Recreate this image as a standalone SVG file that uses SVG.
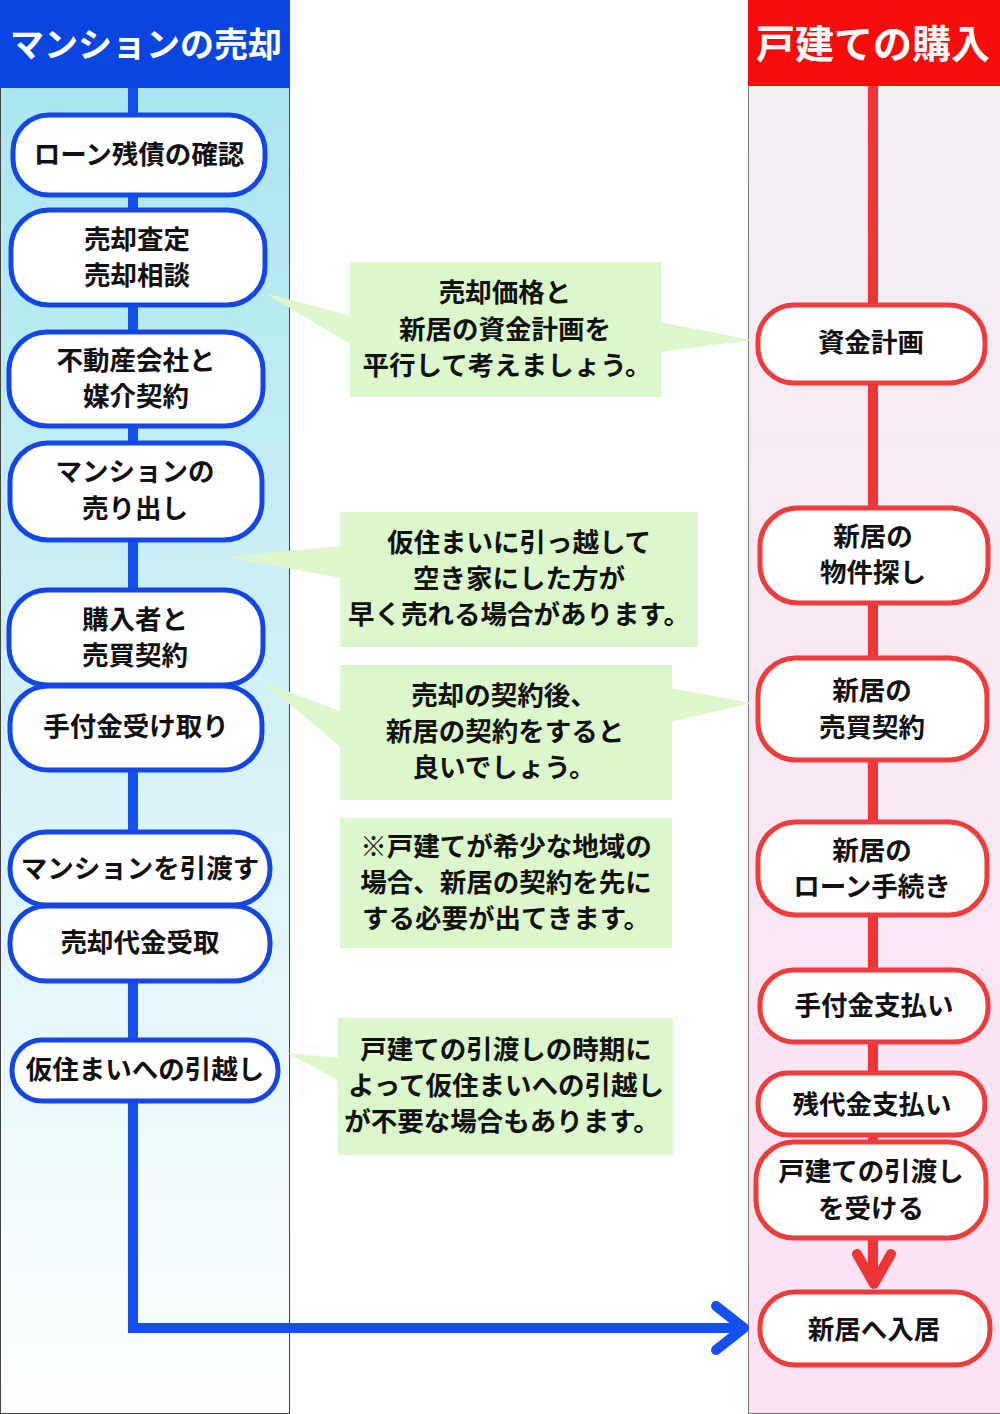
<svg xmlns="http://www.w3.org/2000/svg" width="1000" height="1414" viewBox="0 0 1000 1414">
<defs>
<linearGradient id="gL" x1="0" y1="0" x2="0" y2="1"><stop offset="0" stop-color="#a5e4f0"/><stop offset="1" stop-color="#ffffff"/></linearGradient>
<linearGradient id="gR" x1="0" y1="0" x2="0" y2="1"><stop offset="0" stop-color="#f3f0f4"/><stop offset="1" stop-color="#fde0f4"/></linearGradient>
<style>
text{font-family:"Noto Sans CJK JP","Noto Sans",sans-serif;font-weight:bold;fill:#111;text-anchor:middle}
.t{font-size:26.5px}
.c{font-size:26.5px}
.h{fill:#fff}
.bn{fill:#fff;stroke:#1446e6;stroke-width:5}
.rn{fill:#fff;stroke:#ee3b3b;stroke-width:5}
.call{fill:#dcf7cc}
.bl{stroke:#1450f0;stroke-width:10;fill:none}
.rl{stroke:#ee3535;stroke-width:10;fill:none}
</style>
</defs>
<g id="columns">
<rect x="0.5" y="0.5" width="289" height="1413" fill="url(#gL)" stroke="#444" stroke-width="1"/>
<rect x="748.5" y="0.5" width="252" height="1413" fill="url(#gR)" stroke="#777" stroke-width="1"/>
<rect x="0" y="0" width="290" height="88" fill="#0b45e0"/>
<rect x="748" y="0" width="252" height="86" fill="#f80d0d"/>
<text x="146" y="57" class="h" style="font-size:34px">マンションの売却</text>
<text x="873" y="58" class="h" style="font-size:39px">戸建ての購入</text>
</g>
<g id="connectors">
<path class="bl" d="M133 88 V1328 H742"/>
<path class="bl" d="M716 1306 L744 1328 L716 1350" stroke-linecap="round" stroke-linejoin="round"/>
<path class="rl" d="M873 86 V1280"/>
<path class="rl" d="M857 1254 L874 1284 L891 1254" stroke-linecap="round" stroke-linejoin="round"/>
</g>
<g id="callouts">
<g id="callout1">
<polygon class="call" points="265,293 352,316 352,345"/>
<polygon class="call" points="660,322 752,340 660,352"/>
<rect class="call" x="350" y="262" width="311" height="135"/>
<text class="c" x="505" y="302">売却価格と</text>
<text class="c" x="505" y="339">新居の資金計画を</text>
<text class="c" x="507" y="375">平行して考えましょう。</text>
</g>
<g id="callout2">
<polygon class="call" points="225,557 342,546 342,578"/>
<rect class="call" x="340" y="512" width="358" height="135"/>
<text class="c" x="519" y="552">仮住まいに引っ越して</text>
<text class="c" x="519" y="588">空き家にした方が</text>
<text class="c" x="519" y="624">早く売れる場合があります。</text>
</g>
<g id="callout3">
<polygon class="call" points="263,682 342,712 342,748"/>
<polygon class="call" points="670,688 752,703 670,722"/>
<rect class="call" x="340" y="665" width="332" height="135"/>
<text class="c" x="504" y="705">売却の契約後、</text>
<text class="c" x="505" y="741">新居の契約をすると</text>
<text class="c" x="504" y="777">良いでしょう。</text>
</g>
<g id="callout4">
<rect class="call" x="340" y="818" width="332" height="130"/>
<text class="c" x="506" y="856">※戸建てが希少な地域の</text>
<text class="c" x="506" y="892">場合、新居の契約を先に</text>
<text class="c" x="506" y="928">する必要が出てきます。</text>
</g>
<g id="callout5">
<polygon class="call" points="287,1053 342,1058 342,1082"/>
<rect class="call" x="338" y="1018" width="335" height="137"/>
<text class="c" x="506" y="1059">戸建ての引渡しの時期に</text>
<text class="c" x="506" y="1095">よって仮住まいへの引越し</text>
<text class="c" x="502" y="1131">が不要な場合もあります。</text>
</g>
</g>
<g id="left-nodes">
<g id="n-loan"><rect class="bn" x="13" y="115" width="252" height="80" rx="36"/><text class="t" x="139" y="164">ローン残債の確認</text></g>
<g id="n-satei"><rect class="bn" x="11" y="210" width="254" height="95" rx="38"/><text class="t" x="137" y="249">売却査定</text><text class="t" x="137" y="285">売却相談</text></g>
<g id="n-baikai"><rect class="bn" x="9" y="332" width="254" height="94" rx="38"/><text class="t" x="136" y="370">不動産会社と</text><text class="t" x="136" y="406">媒介契約</text></g>
<g id="n-uridashi"><rect class="bn" x="10" y="443" width="252" height="97" rx="38"/><text class="t" x="135" y="481">マンションの</text><text class="t" x="135" y="518">売り出し</text></g>
<g id="n-baibai"><rect class="bn" x="9" y="590" width="254" height="95" rx="38"/><text class="t" x="135" y="629">購入者と</text><text class="t" x="135" y="665">売買契約</text></g>
<g id="n-tetsuke"><rect class="bn" x="10" y="686" width="252" height="84" rx="38"/><text class="t" x="136" y="736">手付金受け取り</text></g>
<g id="n-hikiwatasu"><rect class="bn" x="10" y="832" width="260" height="73" rx="36"/><text class="t" x="140" y="878">マンションを引渡す</text></g>
<g id="n-uketori"><rect class="bn" x="10" y="906" width="260" height="75" rx="36"/><text class="t" x="140" y="952">売却代金受取</text></g>
<g id="n-karizumai"><rect class="bn" x="12" y="1040" width="266" height="61" rx="30"/><text class="t" x="145" y="1079">仮住まいへの引越し</text></g>
</g>
<g id="right-nodes">
<g id="r-shikin"><rect class="rn" x="758" y="305" width="227" height="78" rx="36"/><text class="t" x="871" y="352">資金計画</text></g>
<g id="r-bukken"><rect class="rn" x="760" y="508" width="228" height="95" rx="38"/><text class="t" x="873" y="546">新居の</text><text class="t" x="873" y="582">物件探し</text></g>
<g id="r-baibai"><rect class="rn" x="758" y="658" width="229" height="102" rx="38"/><text class="t" x="872" y="700">新居の</text><text class="t" x="872" y="737">売買契約</text></g>
<g id="r-loan"><rect class="rn" x="758" y="822" width="229" height="93" rx="38"/><text class="t" x="872" y="860">新居の</text><text class="t" x="872" y="896">ローン手続き</text></g>
<g id="r-tetsuke"><rect class="rn" x="760" y="970" width="228" height="72" rx="34"/><text class="t" x="874" y="1015">手付金支払い</text></g>
<g id="r-zandai"><rect class="rn" x="758" y="1073" width="227" height="62" rx="30"/><text class="t" x="872" y="1114">残代金支払い</text></g>
<g id="r-hikiwatashi"><rect class="rn" x="756" y="1142" width="230" height="96" rx="38"/><text class="t" x="871" y="1181">戸建ての引渡し</text><text class="t" x="871" y="1218">を受ける</text></g>
<g id="r-nyukyo"><rect class="rn" x="760" y="1292" width="230" height="73" rx="35"/><text class="t" x="874" y="1339">新居へ入居</text></g>
</g>
</svg>
